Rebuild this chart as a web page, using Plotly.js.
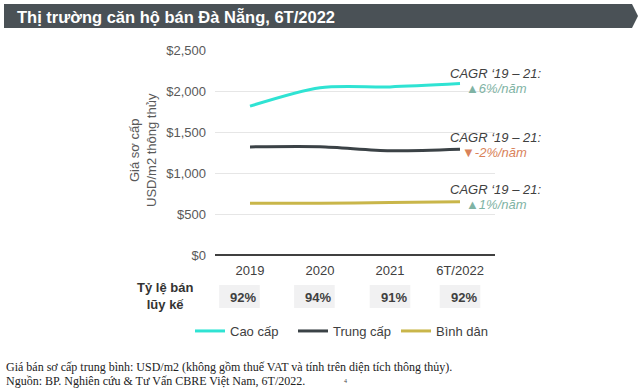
<!DOCTYPE html>
<html><head><meta charset="utf-8">
<script src="https://cdn.plot.ly/plotly-3.0.1.min.js"></script>
<style>html,body{margin:0;padding:0;background:#fff;}#chart{width:640px;height:388px;}</style>
</head><body><div id="chart"></div>
<script>
// ---- data ----
const years = ["2019", "2020", "2021", "6T/2022"];
const caoCap = [1815, 2040, 2050, 2090];
const trungCap = [1318, 1320, 1272, 1290];
const binhDan = [630, 632, 640, 648];
const seriesNames = ["Cao cấp", "Trung cấp", "Bình dân"];
const soldRate = ["92%", "94%", "91%", "92%"];
const cagrText = ["▲6%/năm", "▼-2%/năm", "▲1%/năm"];

// ---- geometry helpers ----
const W = 640, H = 388;
const L = 215, R = 145, T = 50, B = 133;
const pw = W - L - R, ph = H - T - B;
const px = v => (v - L) / pw;
const py = v => (H - B - v) / ph;

const colors = ["#2fe3d3", "#3b4246", "#c9b64a"];
const vals = [caoCap, trungCap, binhDan];
const traces = vals.map((v, i) => ({
  x: years, y: v, type: "scatter", mode: "lines", name: seriesNames[i],
  line: {color: colors[i], width: 3, shape: "spline", smoothing: 0.8},
  hoverinfo: "skip"
}));

const shapes = [];
const annotations = [];

// title bar
const bar = [[4,4],[632,4],[638,16],[632,28],[4,28]];
shapes.push({type: "path", xref: "paper", yref: "paper",
  path: "M" + bar.map(p => px(p[0]) + "," + py(p[1])).join(" L") + " Z",
  fillcolor: "#4a5156", line: {width: 0}, layer: "above"});
annotations.push({xref: "paper", yref: "paper", x: px(15), y: py(16), xanchor: "left", yanchor: "middle",
  showarrow: false, text: "<b>Thị trường căn hộ bán Đà Nẵng, 6T/2022</b>",
  font: {family: "Liberation Sans, Arial", size: 16.5, color: "#ffffff"}});

// y axis title
annotations.push({xref: "paper", yref: "paper", x: px(143), y: py(150), textangle: -90,
  showarrow: false, xanchor: "center", yanchor: "middle",
  text: "Giá sơ cấp<br>USD/m2 thông thủy",
  font: {family: "Liberation Sans, Arial", size: 13, color: "#595959"}});

// sold-rate row
annotations.push({xref: "paper", yref: "paper", x: px(165), y: py(296), showarrow: false,
  xanchor: "center", yanchor: "middle", text: "<b>Tỷ lệ bán<br>lũy kế</b>",
  font: {family: "Liberation Sans, Arial", size: 13, color: "#333333"}});
const boxOff = [-0.15, -0.08, 0, 0];
soldRate.forEach((t, i) => {
  const c = i + boxOff[i];
  shapes.push({type: "rect", xref: "x", yref: "paper", x0: c - 0.29, x1: c + 0.29,
    y0: py(308), y1: py(285), fillcolor: "#f1f1f2", line: {width: 0}, layer: "below"});
  annotations.push({xref: "x", yref: "paper", x: c + 0.05, y: py(297), showarrow: false,
    xanchor: "center", yanchor: "middle", text: "<b>" + t + "</b>",
    font: {family: "Liberation Sans, Arial", size: 13, color: "#404040"}});
});

// CAGR notes
const cagrY = [73, 137, 189];
const cagrCol = ["#7fb3a4", "#d9825a", "#7fb3a4"];
cagrY.forEach((y, i) => {
  annotations.push({xref: "paper", yref: "paper", x: px(543), y: py(y), showarrow: false,
    xanchor: "right", yanchor: "middle", text: "<i>CAGR ‘19 – 21:</i>",
    font: {family: "Liberation Sans, Arial", size: 13, color: "#404040"}});
  annotations.push({xref: "paper", yref: "paper", x: px(529), y: py(y + 15), showarrow: false,
    xanchor: "right", yanchor: "middle", text: "<i>" + cagrText[i] + "</i>",
    font: {family: "Liberation Sans, Arial", size: 13, color: cagrCol[i]}});
});

// footnotes
annotations.push({xref: "paper", yref: "paper", x: px(4), y: py(367), showarrow: false,
  xanchor: "left", yanchor: "middle",
  text: "Giá bán sơ cấp trung bình: USD/m2 (không gồm thuế VAT và tính trên diện tích thông thủy).",
  font: {family: "Liberation Serif, Times New Roman", size: 12, color: "#222222"}});
annotations.push({xref: "paper", yref: "paper", x: px(4), y: py(381), showarrow: false,
  xanchor: "left", yanchor: "middle",
  text: "Nguồn: BP. Nghiên cứu & Tư Vấn CBRE Việt Nam, 6T/2022.",
  font: {family: "Liberation Serif, Times New Roman", size: 12, color: "#222222"}});
annotations.push({xref: "paper", yref: "paper", x: px(345), y: py(381), showarrow: false,
  xanchor: "center", yanchor: "middle", text: "4",
  font: {family: "Liberation Serif, Times New Roman", size: 6, color: "#444444"}});

const layout = {
  width: W, height: H,
  margin: {l: L, r: R, t: T, b: B, pad: 0},
  paper_bgcolor: "#ffffff", plot_bgcolor: "#ffffff",
  font: {family: "Liberation Sans, Arial", color: "#404040"},
  showlegend: true,
  legend: {orientation: "h", x: px(190), y: py(316), xanchor: "left", yanchor: "top",
    font: {size: 13, color: "#404040"}, entrywidth: 58, entrywidthmode: "pixels",
    itemwidth: 30, tracegroupgap: 0, bgcolor: "rgba(0,0,0,0)"},
  xaxis: {type: "category", range: [-0.5, 3.5], showgrid: false, zeroline: false,
    showline: false, ticks: "", ticklabelstandoff: 6, tickfont: {size: 13, color: "#404040"}, fixedrange: true},
  yaxis: {range: [0, 2500], dtick: 500, tickprefix: "$", tickformat: ",",
    showgrid: true, gridcolor: "#e6e6e6", gridwidth: 1,
    zeroline: true, zerolinecolor: "#404040", zerolinewidth: 1.5,
    ticks: "", ticklabelstandoff: 8, tickfont: {size: 13, color: "#595959"}, fixedrange: true},
  shapes: shapes, annotations: annotations
};
Plotly.newPlot("chart", traces, layout, {staticPlot: true, displayModeBar: false});
</script></body></html>
